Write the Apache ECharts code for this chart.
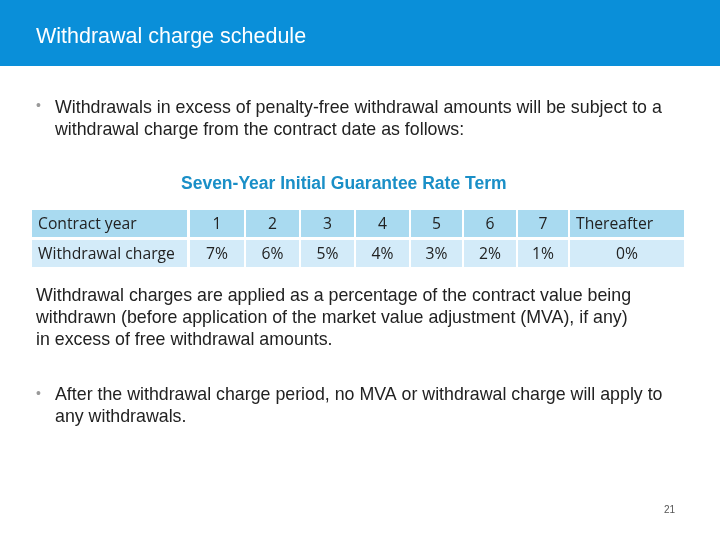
<!DOCTYPE html>
<html lang="en">
<head>
<meta charset="UTF-8">
<script src="https://cdn.jsdelivr.net/npm/echarts@6/dist/echarts.min.js"></script>
<style>
  html, body { margin: 0; padding: 0; background: #fff; }
  #main { width: 720px; height: 540px; }
</style>
</head>
<body>
<div id="main"></div>
<script>
var title = 'Withdrawal charge schedule';
var tableTitle = 'Seven-Year Initial Guarantee Rate Term';
var rowLabels = ['Contract year', 'Withdrawal charge'];
var years = ['1', '2', '3', '4', '5', '6', '7', 'Thereafter'];
var charges = ['7%', '6%', '5%', '4%', '3%', '2%', '1%', '0%'];
var pageNo = '21';

// column edges of the table (x, width)
var cols = [[32, 155], [190, 54], [246, 53], [301, 53], [356, 53], [411, 51], [464, 52], [518, 50], [570, 114]];
var rows = [[210, 27, '#a9daf0'], [240, 27, '#d3ebf9']];

var els = [];
els.push({ type: 'rect', shape: { x: 0, y: 0, width: 720, height: 66 }, style: { fill: '#0a8fd9' } });
els.push({ type: 'text', left: 36, top: 26, style: { text: title, fill: '#fff', font: '21.5px Arial, "Liberation Sans"' } });

var bodyFont = '17.8px "Liberation Sans", Arial';
els.push({ type: 'text', left: 36, top: 99, style: { text: '•', fill: '#999', font: '14px "Liberation Sans"' } });
els.push({ type: 'text', left: 55, top: 97, style: { text: 'Withdrawals in excess of penalty-free withdrawal amounts will be subject to a\nwithdrawal charge from the contract date as follows:', fill: '#222', font: bodyFont, lineHeight: 22 } });
els.push({ type: 'text', left: 181, top: 175, style: { text: tableTitle, fill: '#1a8fc7', font: 'bold 17.5px "Liberation Sans", Arial' } });

var cellFont = '15.7px "Open Sans", "DejaVu Sans"';
rows.forEach(function (r, ri) {
  var vals = [rowLabels[ri]].concat(ri === 0 ? years : charges);
  cols.forEach(function (c, ci) {
    els.push({ type: 'rect', shape: { x: c[0], y: r[0], width: c[1], height: r[1] }, style: { fill: r[2] } });
    var left = ci === 0 || (ri === 0 && ci === 8);
    els.push({
      type: 'text',
      x: left ? c[0] + 6 : c[0] + c[1] / 2,
      y: r[0] + r[1] / 2 + 1,
      style: { text: vals[ci], fill: '#222', font: cellFont, textAlign: left ? 'left' : 'center', textVerticalAlign: 'middle' }
    });
  });
});

els.push({ type: 'text', left: 36, top: 285, style: { text: 'Withdrawal charges are applied as a percentage of the contract value being\nwithdrawn (before application of the market value adjustment (MVA), if any)\nin excess of free withdrawal amounts.', fill: '#222', font: bodyFont, lineHeight: 22 } });
els.push({ type: 'text', left: 36, top: 387, style: { text: '•', fill: '#999', font: '14px "Liberation Sans"' } });
els.push({ type: 'text', left: 55, top: 384, style: { text: 'After the withdrawal charge period, no MVA or withdrawal charge will apply to\nany withdrawals.', fill: '#222', font: bodyFont, lineHeight: 22 } });
els.push({ type: 'text', left: 664, top: 505, style: { text: pageNo, fill: '#555', font: '10px "Liberation Sans"' } });

var chart = echarts.init(document.getElementById('main'));
chart.setOption({ backgroundColor: '#fff', graphic: { elements: els } });
</script>
</body>
</html>
